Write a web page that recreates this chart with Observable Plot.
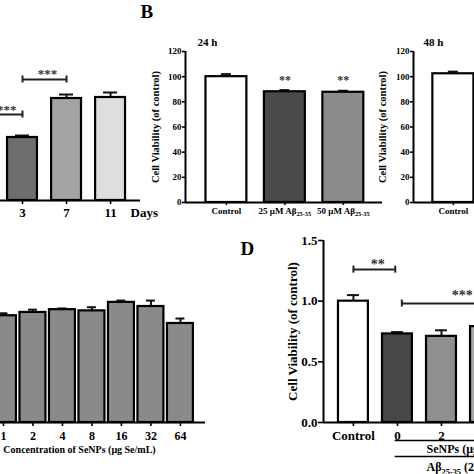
<!DOCTYPE html>
<html>
<head>
<meta charset="utf-8">
<script src="https://cdn.jsdelivr.net/npm/d3@7"></script>
<script src="https://cdn.jsdelivr.net/npm/@observablehq/plot@0.6"></script>
<style>
  html, body { margin: 0; padding: 0; background: #fff; }
  #wrap { position: relative; width: 474px; height: 474px; overflow: hidden; background: #fff; }
  #wrap svg { position: absolute; left: 0; top: 0; background: transparent !important; }
  #wrap [aria-label="x-axis tick"], #wrap [aria-label="y-axis tick"], #wrap .tick line { stroke-width: 1.6px; }
</style>
</head>
<body>
<div id="wrap"></div>
<script>
const FONT = "'Liberation Serif', 'Times New Roman', serif";
const W = 474, H = 474;

// ---------- Panel A (days) ----------
const aCats = ["1", "3", "7", "11"];
const aBarCats = ["3", "7", "11"];
const aMeans = [0.63, 1.02, 1.03];
const aTops = [0.65, 1.06, 1.08];
const aFills = ["#6e6e6e", "#a3a3a3", "#dedede"];
const aSigFrom = [0, 1];
const aSigTo = [1, 2];
const aSigY = [0.86, 1.21];
const aSigLabels = ["***", "***"];
const aSigLabelX = [0.64, 1.57];
const aSigLabelY = [0.91, 1.27];

// ---------- Panel B (24 h / 48 h) ----------
const bCats = ["Control", "25 μM Aβ25-35", "50 μM Aβ25-35"];
const bFills = ["#ffffff", "#4a4a4a", "#8c8c8c"];
const b24Means = [100, 88.0, 87.6];
const b24Tops = [102, 89.3, 88.8];
const b24Stars = ["", "**", "**"];
const b24StarY = [0, 97.6, 97.6];
const b48Cats = ["Control"];
const b48Means = [102.3];
const b48Tops = [104];
const bYTicks = [0, 20, 40, 60, 80, 100, 120];

// ---------- Panel C (SeNPs concentration) ----------
const cCats = ["1", "2", "4", "8", "16", "32", "64"];
const cMeans = [0.88, 0.907, 0.93, 0.92, 0.99, 0.956, 0.816];
const cTops = [0.90, 0.93, 0.94, 0.95, 1.005, 1.005, 0.857];
const cFill = "#8a8a8a";

// ---------- Panel D ----------
const dCats = ["Control", "0", "2", "4"];
const dMeans = [1.0, 0.73, 0.71, 0.79];
const dTops = [1.05, 0.745, 0.76, 0.81];
const dFills = ["#ffffff", "#474747", "#8f8f8f", "#a8a8a8"];
const dYTicks = [0, 0.5, 1.0, 1.5];
const dSigFrom = [0, 1.1];
const dSigTo = [0.95, 4];
const dSigY = [1.26, 0.98];
const dSigLabels = ["**", "***"];
const dSigLabelX = [0.55, 2.47];
const dSigLabelY = [1.306, 1.05];
const dGroupLabels = ["SeNPs (μg Se/mL)", "Aβ25-35 (25 μM)"];
const dGroupLineY = [-0.148, -0.28];
const dGroupTextY = [-0.22, -0.37];
const dGroupX1 = 0.95, dGroupX2 = 5, dGroupTextX = 1.66;

// ---------- helpers ----------
function rows(cats, barCats, means, tops, fills) {
  return barCats.map((c, k) => ({
    i: cats.indexOf(c), v: means[k], e: tops[k],
    fill: Array.isArray(fills) ? fills[k] : fills
  }));
}
function barMarks(data, hw, cap) {
  return [
    Plot.ruleX(data, {x: "i", y1: "v", y2: "e", stroke: "#111", strokeWidth: 2}),
    Plot.ruleY(data, {x1: "i", x2: "i", y: "e", insetLeft: -cap, insetRight: -cap, stroke: "#111", strokeWidth: 2}),
    Plot.rectY(data, {x1: d => d.i - hw, x2: d => d.i + hw, y1: () => 0, y2: "v", fill: "fill", stroke: "#000", strokeWidth: 2.2})
  ];
}
function sigRows(from, to, y, labels, lx, ly) {
  return from.map((f, k) => ({x1: f, x2: to[k], y: y[k], label: labels[k], lx: lx[k], ly: ly[k]}));
}
function sigMarks(sig, fontSize) {
  return [
    Plot.ruleY(sig, {x1: "x1", x2: "x2", y: "y", stroke: "#222", strokeWidth: 2}),
    Plot.ruleX(sig, {x: "x1", y1: "y", y2: "y", insetTop: -3.5, insetBottom: -3.5, stroke: "#222", strokeWidth: 2}),
    Plot.ruleX(sig, {x: "x2", y1: "y", y2: "y", insetTop: -3.5, insetBottom: -3.5, stroke: "#222", strokeWidth: 2}),
    Plot.text(sig, {x: "lx", y: "ly", text: "label", fontSize, fill: "#333"})
  ];
}
// frame-anchored text helper (explicit anchors so Plot does not infer them from frameAnchor)
function ftext(str, frameAnchor, opts) {
  return Plot.text([str], {frameAnchor, textAnchor: "middle", lineAnchor: "middle", ...opts});
}
function style(fs) {
  return {fontFamily: FONT, fontSize: fs + "px", fontWeight: "bold", background: "transparent", color: "#000"};
}
function subscripts(svg) {
  d3.select(svg).selectAll("text").each(function () {
    if (this.querySelector("tspan")) return;
    const t = this.textContent;
    const m = t.match(/^(.*Aβ)(25-35)(.*)$/);
    if (!m) return;
    const fs = parseFloat(getComputedStyle(this).fontSize) || 10;
    const sel = d3.select(this);
    sel.text(null);
    sel.append("tspan").text(m[1]);
    sel.append("tspan").attr("dy", fs * 0.28).attr("font-size", fs * 0.7).text(m[2]);
    if (m[3]) sel.append("tspan").attr("dy", -fs * 0.28).text(m[3]);
  });
}
const wrap = document.getElementById("wrap");
function add(svg) { wrap.appendChild(svg); subscripts(svg); }

// ---------- Panel A ----------
const aData = rows(aCats, aBarCats, aMeans, aTops, aFills);
add(Plot.plot({
  width: W, height: H, marginLeft: 0, marginRight: 334, marginTop: 50, marginBottom: 274,
  style: style(13),
  x: {domain: [0.5, 3.68], ticks: [0, 1, 2, 3], tickFormat: i => aCats[i], tickSize: 4, tickPadding: 3, label: null},
  y: {domain: [0, 1.5], axis: null},
  color: {type: "identity"},
  marks: [
    ...barMarks(aData, 0.34, 7),
    Plot.ruleY([0], {stroke: "#000", strokeWidth: 2}),
    ...sigMarks(sigRows(aSigFrom, aSigTo, aSigY, aSigLabels, aSigLabelX, aSigLabelY), 13),
    ftext("Days", "bottom-right", {dx: -10, dy: 12, textAnchor: "start", fontSize: 13})
  ]
}));

// ---------- Panel B 24 h ----------
const b24Data = rows(bCats, bCats, b24Means, b24Tops, bFills);
const b24Dom = [-0.70, 2.67];
add(Plot.plot({
  width: W, height: H, marginLeft: 185, marginRight: 92, marginTop: 51, marginBottom: 272,
  style: style(9),
  x: {domain: b24Dom, ticks: [0, 1, 2], tickFormat: i => bCats[i], tickSize: 3, tickPadding: 2, label: null},
  y: {domain: [0, 120], ticks: bYTicks, tickSize: 3, tickPadding: 1, label: null},
  color: {type: "identity"},
  marks: [
    ...barMarks(b24Data, 0.35, 5),
    Plot.ruleY([0], {stroke: "#000", strokeWidth: 2}),
    Plot.ruleX([b24Dom[0]], {stroke: "#000", strokeWidth: 2}),
    Plot.text(b24Data.map((d, k) => ({i: d.i, y: b24StarY[k], s: b24Stars[k]})), {x: "i", y: "y", text: "s", fontSize: 12, fill: "#333"}),
    ftext("24 h", "top-left", {dx: 12, dy: -9, textAnchor: "start", fontSize: 11}),
    ftext("Cell Viability (of control)", "left", {rotate: -90, dx: -30, fontSize: 10.5}),
    ftext("B", "top-left", {dx: -45, dy: -39.5, textAnchor: "start", fontSize: 19})
  ]
}));

// ---------- Panel B 48 h ----------
const b48Data = rows(b48Cats, b48Cats, b48Means, b48Tops, ["#ffffff"]);
const b48Dom = [-0.68, 0.36];
add(Plot.plot({
  width: W, height: H, marginLeft: 413, marginRight: 0, marginTop: 51, marginBottom: 272,
  style: style(9),
  x: {domain: b48Dom, ticks: [0], tickFormat: i => b48Cats[i], tickSize: 3, tickPadding: 2, label: null},
  y: {domain: [0, 120], ticks: bYTicks, tickSize: 3, tickPadding: 1, label: null},
  color: {type: "identity"},
  marks: [
    ...barMarks(b48Data, 0.35, 5),
    Plot.ruleY([0], {stroke: "#000", strokeWidth: 2}),
    Plot.ruleX([b48Dom[0]], {stroke: "#000", strokeWidth: 2}),
    ftext("48 h", "top-left", {dx: 10, dy: -9, textAnchor: "start", fontSize: 11}),
    ftext("Cell Viability (of control)", "left", {rotate: -90, dx: -31, fontSize: 10.5})
  ]
}));

// ---------- Panel C ----------
const cData = rows(cCats, cCats, cMeans, cTops, cFill);
add(Plot.plot({
  width: W, height: H, marginLeft: 0, marginRight: 269, marginTop: 240, marginBottom: 52,
  style: style(12),
  x: {domain: [-0.10, 6.85], ticks: d3.range(cCats.length), tickFormat: i => cCats[i], tickSize: 4, tickPadding: 5, label: null},
  y: {domain: [0, 1.5], axis: null},
  color: {type: "identity"},
  marks: [
    ...barMarks(cData, 0.44, 4.5),
    Plot.ruleY([0], {stroke: "#000", strokeWidth: 2}),
    ftext("Concentration of SeNPs (μg Se/mL)", "bottom-left", {dx: 79, dy: 27, fontSize: 10})
  ]
}));

// ---------- Panel D ----------
const dData = rows(dCats, dCats, dMeans, dTops, dFills);
const dDom = [-0.68, 2.75];
const dGroups = dGroupLabels.map((t, k) => ({t, ly: dGroupLineY[k], ty: dGroupTextY[k]}));
add(Plot.plot({
  width: W, height: H, marginLeft: 323, marginRight: 0, marginTop: 240, marginBottom: 52,
  style: style(13),
  x: {domain: dDom, ticks: [0, 1, 2, 3], tickFormat: i => dCats[i], tickSize: 4, tickPadding: 4, label: null},
  y: {domain: [0, 1.5], ticks: dYTicks, tickFormat: d3.format(".1f"), tickSize: 5, tickPadding: 1, label: null},
  color: {type: "identity"},
  marks: [
    ...barMarks(dData, 0.34, 6),
    Plot.ruleY([0], {stroke: "#000", strokeWidth: 2}),
    Plot.ruleX([dDom[0]], {stroke: "#000", strokeWidth: 2}),
    ...sigMarks(sigRows(dSigFrom, dSigTo, dSigY, dSigLabels, dSigLabelX, dSigLabelY), 14),
    Plot.ruleY(dGroups, {x1: () => dGroupX1, x2: () => dGroupX2, y: "ly", stroke: "#000", strokeWidth: 1.5}),
    Plot.text(dGroups, {x: () => dGroupTextX, y: "ty", text: "t", textAnchor: "start", fontSize: 12}),
    ftext("Cell Viability (of control)", "left", {rotate: -90, dx: -31, fontSize: 13}),
    ftext("D", "top-left", {dx: -83, dy: 8, textAnchor: "start", fontSize: 19})
  ]
}));
</script>
</body>
</html>
